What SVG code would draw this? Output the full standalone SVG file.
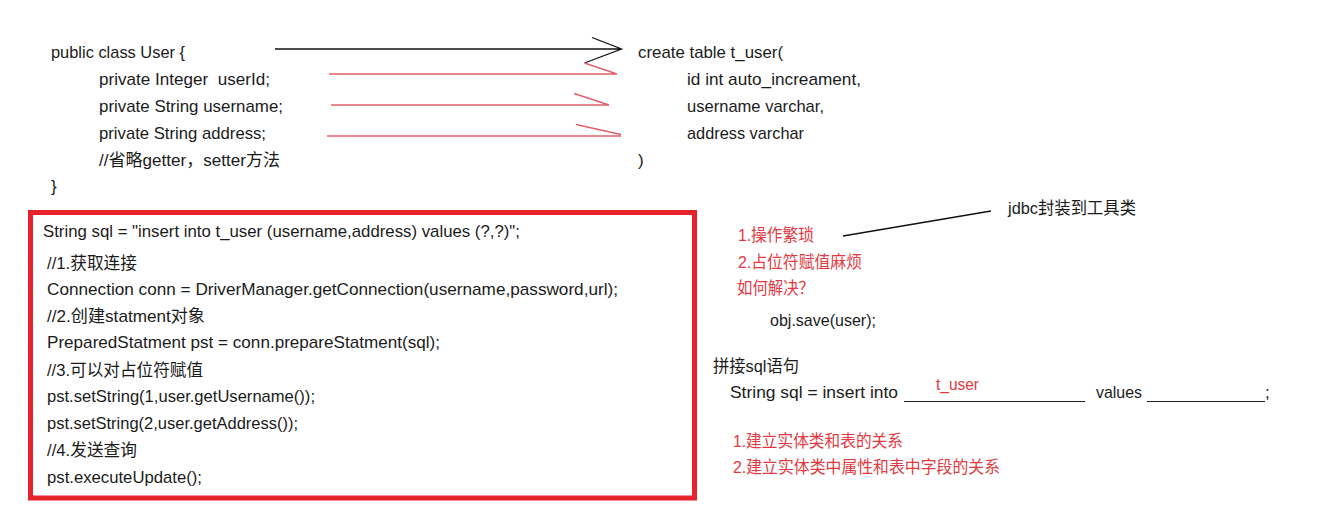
<svg xmlns="http://www.w3.org/2000/svg" width="1318" height="520" viewBox="0 0 1318 520">
<style>
.t{font-family:"Liberation Sans","Noto Sans CJK SC",sans-serif;font-size:17px;fill:#1b1b1b;white-space:pre}
.r{fill:#e23a42}
.blk{stroke:#111;stroke-width:1.3;fill:none}
.red{stroke:#e0606c;stroke-width:1.4;fill:none}
.box{stroke:#e8222c;stroke-width:5;fill:none}
.ul{stroke:#222;stroke-width:1.2}
</style>
<rect width="1318" height="520" fill="#fff"/>
<g id="user-class">
<text class="t" x="51" y="58" textLength="134" lengthAdjust="spacingAndGlyphs">public class User {</text>
<text class="t" x="99" y="85" textLength="171" lengthAdjust="spacingAndGlyphs">private Integer  userId;</text>
<text class="t" x="99" y="112" textLength="184" lengthAdjust="spacingAndGlyphs">private String username;</text>
<text class="t" x="99" y="139" textLength="167" lengthAdjust="spacingAndGlyphs">private String address;</text>
<text class="t" x="99" y="166" textLength="181" lengthAdjust="spacingAndGlyphs">//省略getter，setter方法</text>
<text class="t" x="51" y="192">}</text>
</g>
<g id="table-def">
<text class="t" x="638" y="58" textLength="145" lengthAdjust="spacingAndGlyphs">create table t_user(</text>
<text class="t" x="687" y="85" textLength="174" lengthAdjust="spacingAndGlyphs">id int auto_increament,</text>
<text class="t" x="687" y="112" textLength="137" lengthAdjust="spacingAndGlyphs">username varchar,</text>
<text class="t" x="687" y="139" textLength="117" lengthAdjust="spacingAndGlyphs">address varchar</text>
<text class="t" x="638" y="166">)</text>
</g>
<g id="connectors">
<path class="blk" d="M275,49 H621.5 M592,37.5 L621.5,49 L584.5,63"/>
<path class="red" d="M329,74 H617 M584.5,63 L617,74"/>
<path class="red" d="M331,105 H609 M574,93.5 L609,105"/>
<path class="red" d="M327,136 H621 M576,124.5 L621,134.5"/>
<path class="blk" d="M843,236 L991,211"/>
</g>
<g id="jdbc-code">
<rect class="box" x="30.5" y="212.5" width="664" height="285.5"/>
<text class="t" x="43" y="237" textLength="477" lengthAdjust="spacingAndGlyphs">String sql = "insert into t_user (username,address) values (?,?)";</text>
<text class="t" x="47" y="269" textLength="90" lengthAdjust="spacingAndGlyphs">//1.获取连接</text>
<text class="t" x="47" y="295" textLength="571" lengthAdjust="spacingAndGlyphs">Connection conn = DriverManager.getConnection(username,password,url);</text>
<text class="t" x="47" y="322" textLength="158" lengthAdjust="spacingAndGlyphs">//2.创建statment对象</text>
<text class="t" x="47" y="348" textLength="393" lengthAdjust="spacingAndGlyphs">PreparedStatment pst = conn.prepareStatment(sql);</text>
<text class="t" x="47" y="376" textLength="156" lengthAdjust="spacingAndGlyphs">//3.可以对占位符赋值</text>
<text class="t" x="47" y="402" textLength="268" lengthAdjust="spacingAndGlyphs">pst.setString(1,user.getUsername());</text>
<text class="t" x="47" y="429" textLength="251" lengthAdjust="spacingAndGlyphs">pst.setString(2,user.getAddress());</text>
<text class="t" x="47" y="456" textLength="90" lengthAdjust="spacingAndGlyphs">//4.发送查询</text>
<text class="t" x="47" y="483" textLength="155" lengthAdjust="spacingAndGlyphs">pst.executeUpdate();</text>
</g>
<g id="problems">
<text class="t" x="1008" y="214" textLength="128" lengthAdjust="spacingAndGlyphs">jdbc封装到工具类</text>
<text class="t r" x="738" y="241" textLength="76" lengthAdjust="spacingAndGlyphs">1.操作繁琐</text>
<text class="t r" x="738" y="268" textLength="124" lengthAdjust="spacingAndGlyphs">2.占位符赋值麻烦</text>
<text class="t r" x="737" y="294" textLength="77" lengthAdjust="spacingAndGlyphs">如何解决？</text>
<text class="t" x="770" y="326" textLength="106" lengthAdjust="spacingAndGlyphs">obj.save(user);</text>
</g>
<g id="sql-concat">
<text class="t" x="713" y="372" textLength="86" lengthAdjust="spacingAndGlyphs">拼接sql语句</text>
<text class="t" x="730" y="398" textLength="168" lengthAdjust="spacingAndGlyphs">String sql = insert into</text>
<text class="t r" x="936" y="390" textLength="43" lengthAdjust="spacingAndGlyphs">t_user</text>
<line class="ul" x1="904" y1="401.5" x2="1085" y2="401.5"/>
<text class="t" x="1096" y="398" textLength="46" lengthAdjust="spacingAndGlyphs">values</text>
<line class="ul" x1="1147" y1="401.5" x2="1265" y2="401.5"/>
<text class="t" x="1265" y="398">;</text>
<text class="t r" x="733" y="447" textLength="170" lengthAdjust="spacingAndGlyphs">1.建立实体类和表的关系</text>
<text class="t r" x="733" y="473" textLength="267" lengthAdjust="spacingAndGlyphs">2.建立实体类中属性和表中字段的关系</text>
</g>
</svg>
